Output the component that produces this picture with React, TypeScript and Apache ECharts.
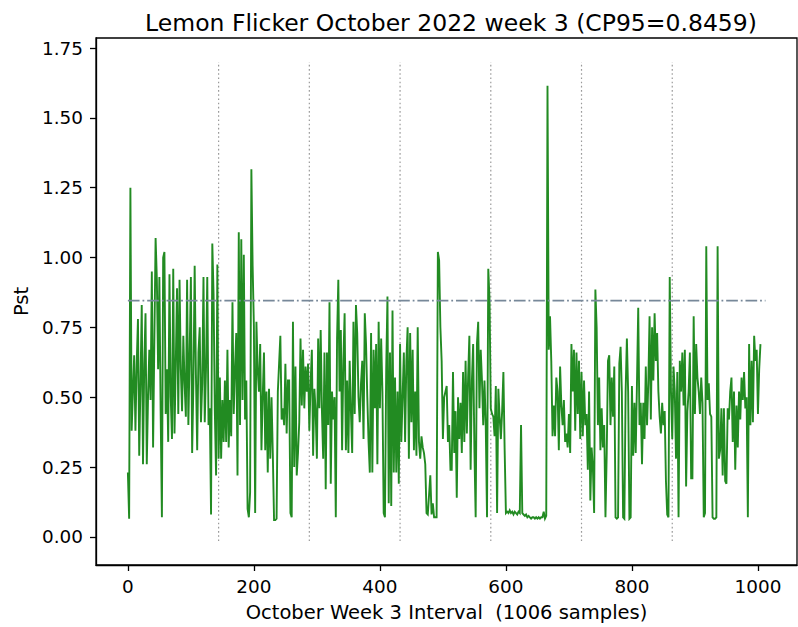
import React, { useEffect, useRef } from "react";
import * as echarts from "echarts";

const TITLE = "Lemon Flicker October 2022 week 3 (CP95=0.8459)";
const X_LABEL = "October Week 3 Interval  (1006 samples)";
const Y_LABEL = "Pst";
const CP95 = 0.8459;
const CP95_SPAN = [0, 1012];
const SAMPLE_STEP = 2;
const DAY_BOUNDARIES = [144, 288, 432, 576, 720, 864];
const BOUNDARY_SPAN = [-0.015, 1.7];
const X_TICKS = [0, 200, 400, 600, 800, 1000];
const Y_TICKS = [0, 0.25, 0.5, 0.75, 1.0, 1.25, 1.5, 1.75];

// Pst readings, every 2nd interval, grouped in segments (start = interval index)
const seg0Start = 0;
const pstSeg0 = [
  0.23, 0.065, 1.25, 0.38, 0.52, 0.65, 0.38, 0.62, 0.78, 0.29,
  0.55, 0.83, 0.26, 0.62, 0.8, 0.26, 0.5, 0.67, 0.49, 0.95,
  0.32, 0.7, 1.07, 0.92, 0.6, 0.93, 0.45, 0.07, 1.0, 1.02,
  0.44, 0.6, 0.34, 0.94, 0.5, 0.35, 0.96, 0.37, 0.62, 0.89,
  0.44, 0.92, 0.6, 0.45, 0.72, 0.55, 0.43, 0.92, 0.4, 0.65,
  0.93, 0.3, 0.55, 0.97, 0.58, 0.31, 0.66, 0.75, 0.41, 0.55,
  0.93, 0.41, 0.6, 0.93,
];
const seg1Start = 128;
const pstSeg1 = [
  0.4, 0.46, 0.08, 1.05, 0.87, 0.45, 0.22, 0.975, 0.28, 0.57,
  0.28, 0.49, 0.34, 0.56, 0.34, 0.67, 0.32, 0.49, 0.36, 0.84,
  0.44, 0.6, 0.73, 0.22, 1.09, 0.4, 1.065, 0.49, 1.01, 0.42,
  0.56, 0.1, 0.07, 0.16, 1.316, 0.97, 0.755, 0.085, 0.77, 0.6,
  0.52, 0.69, 0.31, 0.5, 0.66, 0.31, 0.52, 0.23, 0.53, 0.28,
  0.5, 0.3, 0.06, 0.06, 0.065, 0.52, 0.62, 0.72, 0.42, 0.46,
  0.4, 0.62, 0.37, 0.56,
];
const seg2Start = 256;
const pstSeg2 = [
  0.56, 0.085, 0.07, 0.77, 0.25, 0.61, 0.22, 0.3, 0.41, 0.71,
  0.47, 0.67, 0.46, 0.61, 0.52, 0.62, 0.38, 0.55, 0.67, 0.29,
  0.53, 0.45, 0.28, 0.71, 0.46, 0.74, 0.45, 0.28, 0.66, 0.17,
  0.66, 0.4, 0.84, 0.19, 0.52, 0.42, 0.5, 0.07, 0.71, 0.92,
  0.52, 0.74, 0.31, 0.63, 0.8, 0.31, 0.56, 0.3, 0.63, 0.45,
  0.3, 0.77, 0.44, 0.83, 0.73, 0.5, 0.41, 0.55, 0.63, 0.35,
  0.8, 0.69, 0.5, 0.34,
];
const seg3Start = 384;
const pstSeg3 = [
  0.23, 0.73, 0.23, 0.67, 0.46, 0.69, 0.26, 0.77, 0.46, 0.71,
  0.52, 0.085, 0.07, 0.6, 0.86, 0.12, 0.66, 0.11, 0.81, 0.23,
  0.57, 0.23, 0.52, 0.19, 0.69, 0.34, 0.5, 0.66, 0.34, 0.63,
  0.75, 0.28, 0.73, 0.41, 0.67, 0.31, 0.52, 0.29, 0.75, 0.34,
  0.28, 0.36, 0.32, 0.3, 0.26, 0.085, 0.08, 0.15, 0.22, 0.08,
  0.12, 0.07, 0.07, 0.07, 1.02, 0.99, 0.75, 0.63, 0.35, 0.5,
  0.52, 0.54, 0.34,
];
const seg4Start = 510;
const pstSeg4 = [
  0.4, 0.24, 0.24, 0.59, 0.3, 0.45, 0.14, 0.5, 0.35, 0.48,
  0.3, 0.59, 0.34, 0.63, 0.37, 0.57, 0.72, 0.24, 0.56, 0.69,
  0.31, 0.07, 0.69, 0.77, 0.46, 0.67, 0.56, 0.4, 0.56, 0.4,
  0.07, 0.96, 0.85, 0.46, 0.44, 0.43, 0.36, 0.54, 0.085, 0.53,
  0.43, 0.35, 0.45, 0.59, 0.31, 0.085, 0.09, 0.085, 0.095, 0.085,
  0.09, 0.08, 0.09, 0.085, 0.08, 0.09, 0.085, 0.4, 0.085, 0.08,
  0.075, 0.08, 0.07,
];
const seg5Start = 636;
const pstSeg5 = [
  0.075, 0.07, 0.065, 0.07, 0.07, 0.065, 0.07, 0.065, 0.07, 0.065,
  0.07, 0.07, 0.09, 0.065, 0.075, 1.615, 0.67, 0.79, 0.63, 0.36,
  0.47, 0.36, 0.57, 0.52, 0.31, 0.61, 0.47, 0.4, 0.49, 0.34,
  0.37, 0.32, 0.44, 0.3, 0.69, 0.52, 0.67, 0.38, 0.66, 0.44,
  0.63, 0.35, 0.59, 0.36, 0.56, 0.4, 0.44, 0.24, 0.52, 0.13,
  0.32, 0.25, 0.085, 0.885, 0.75, 0.4, 0.57, 0.31, 0.46, 0.32,
  0.4, 0.07, 0.3, 0.63,
];
const seg6Start = 764;
const pstSeg6 = [
  0.65, 0.4, 0.57, 0.43, 0.61, 0.07, 0.065, 0.07, 0.62, 0.68,
  0.52, 0.07, 0.065, 0.52, 0.71, 0.52, 0.065, 0.07, 0.54, 0.29,
  0.48, 0.3, 0.55, 0.82, 0.4, 0.48, 0.26, 0.48, 0.35, 0.61,
  0.4, 0.55, 0.79, 0.42, 0.75, 0.56, 0.8, 0.63, 0.73, 0.52,
  0.43, 0.37, 0.48, 0.4, 0.45, 0.2, 0.08, 0.07, 0.93, 0.52,
  0.35, 0.61, 0.52, 0.28, 0.59, 0.07, 0.63, 0.52, 0.66, 0.47,
  0.67, 0.18, 0.45,
];
const seg7Start = 890;
const pstSeg7 = [
  0.52, 0.66, 0.21, 0.21, 0.79, 0.44, 0.69, 0.57, 0.52, 0.44,
  0.57, 0.48, 0.07, 0.085, 1.04, 0.49, 0.55, 0.44, 0.43, 0.07,
  0.065, 0.065, 0.07, 1.04, 0.28, 0.31, 0.46, 0.22, 0.46, 0.2,
  0.19, 0.46, 0.42, 0.52, 0.57, 0.34, 0.52, 0.24, 0.47, 0.32,
  0.52, 0.42, 0.57, 0.49, 0.59, 0.46, 0.5, 0.07, 0.69, 0.4,
  0.63, 0.41, 0.72, 0.63, 0.67, 0.44, 0.6, 0.69,
];

const SEGMENTS: [number, number[]][] = [
  [seg0Start, pstSeg0],
  [seg1Start, pstSeg1],
  [seg2Start, pstSeg2],
  [seg3Start, pstSeg3],
  [seg4Start, pstSeg4],
  [seg5Start, pstSeg5],
  [seg6Start, pstSeg6],
  [seg7Start, pstSeg7],
];

const FONT = "'DejaVu Sans', 'Liberation Sans', sans-serif";

export default function App() {
  const ref = useRef<HTMLDivElement>(null);

  useEffect(() => {
    if (!ref.current) return;
    const chart = echarts.init(ref.current, null, { renderer: "svg" });

    const pstData: [number, number][] = [];
    SEGMENTS.forEach(([start, vals]) => {
      vals.forEach((v, i) => pstData.push([start + i * SAMPLE_STEP, v]));
    });

    const boundarySeries = DAY_BOUNDARIES.map((b) => ({
      type: "line",
      data: [
        [b, BOUNDARY_SPAN[0]],
        [b, BOUNDARY_SPAN[1]],
      ],
      symbol: "none",
      silent: true,
      z: 1,
      lineStyle: { color: "#9a9a9a", width: 1.2, type: [1.6, 2.6] },
    }));

    const axisLine = { show: true, onZero: false, lineStyle: { color: "#000", width: 1.3 } };

    chart.setOption({
      animation: false,
      backgroundColor: "#fff",
      title: {
        text: TITLE,
        left: 446,
        top: 6,
        textAlign: "center",
        textStyle: { fontFamily: FONT, fontSize: 23.5, fontWeight: "normal", color: "#000" },
      },
      grid: {
        left: 96,
        right: 1,
        top: 38,
        bottom: 61,
        show: true,
        borderColor: "#000",
        borderWidth: 1.3,
        backgroundColor: "transparent",
      },
      xAxis: {
        type: "value",
        min: -50.6,
        max: 1062,
        name: X_LABEL,
        nameLocation: "middle",
        nameGap: 37,
        nameTextStyle: { fontFamily: FONT, fontSize: 19.5, color: "#000" },
        axisLine,
        axisTick: { show: true, length: 6, customValues: X_TICKS, lineStyle: { color: "#000", width: 1.3 } },
        axisLabel: {
          customValues: X_TICKS,
          formatter: (v: number) => String(v),
          fontFamily: FONT,
          fontSize: 18.4,
          color: "#000",
          margin: 12,
        },
        splitLine: { show: false },
      },
      yAxis: {
        type: "value",
        min: -0.1008,
        max: 1.7858,
        name: Y_LABEL,
        nameLocation: "middle",
        nameRotate: 90,
        nameGap: 63,
        nameTextStyle: { fontFamily: FONT, fontSize: 19.5, color: "#000" },
        axisLine,
        axisTick: { show: true, length: 6, customValues: Y_TICKS, lineStyle: { color: "#000", width: 1.3 } },
        axisLabel: {
          customValues: Y_TICKS,
          formatter: (v: number) => v.toFixed(2),
          fontFamily: FONT,
          fontSize: 18.4,
          color: "#000",
          margin: 13,
        },
        splitLine: { show: false },
      },
      series: [
        ...boundarySeries,
        {
          type: "line",
          data: pstData,
          symbol: "none",
          z: 3,
          lineStyle: { color: "#228B22", width: 1.9, join: "miter" },
        },
        {
          type: "line",
          data: [
            [CP95_SPAN[0], CP95],
            [CP95_SPAN[1], CP95],
          ],
          symbol: "none",
          z: 4,
          lineStyle: { color: "#778899", width: 1.8, type: [11.7, 2.9, 1.8, 2.9] },
        },
      ],
    });

    return () => chart.dispose();
  }, []);

  return (
    <div
      ref={ref}
      style={{ position: "fixed", left: 0, top: 0, width: 798, height: 627, background: "#fff" }}
    />
  );
}
